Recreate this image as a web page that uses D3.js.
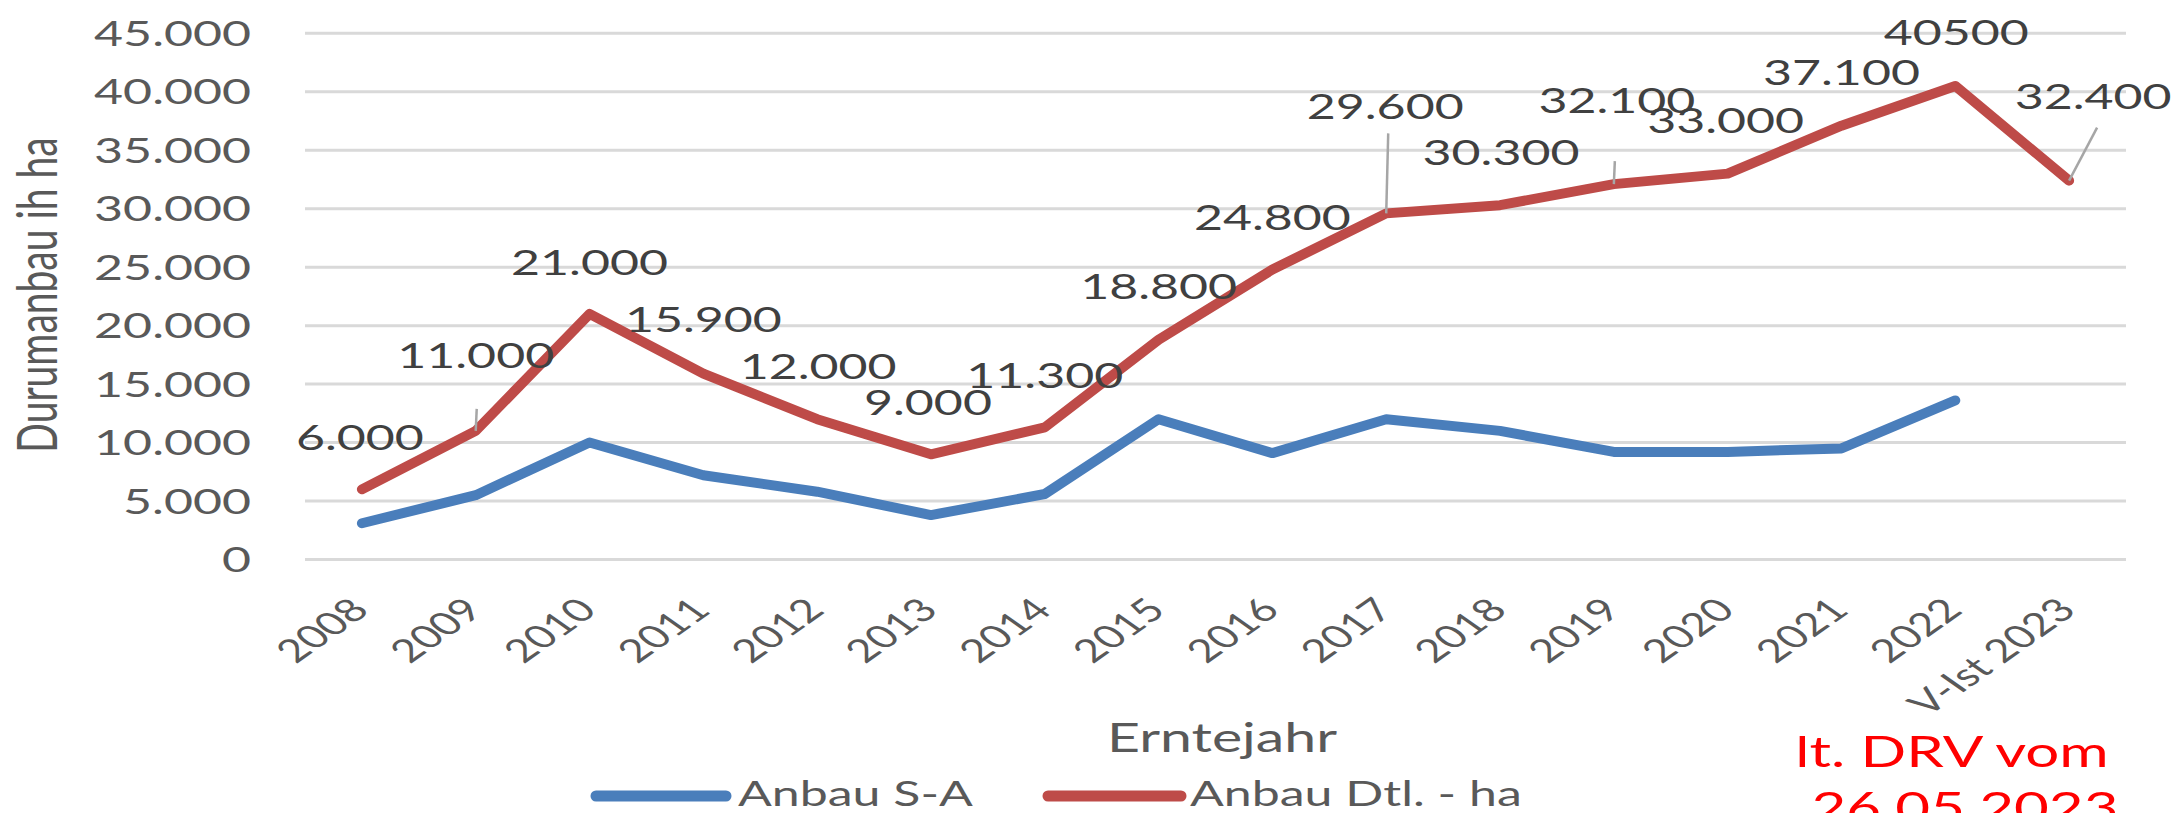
<!DOCTYPE html>
<html>
<head>
<meta charset="utf-8">
<script src="https://cdn.jsdelivr.net/npm/d3@7"></script>
<style>
  html, body { margin: 0; padding: 0; background: #ffffff; }
  svg { display: block; }
  text { font-family: Lato, "Open Sans", sans-serif; }
</style>
</head>
<body>
<svg id="chart" width="2182" height="813"></svg>
<script>
// ---------- DATA ----------
const categories = ["2008","2009","2010","2011","2012","2013","2014","2015","2016","2017","2018","2019","2020","2021","2022","V-Ist 2023"];
const seriesNames = ["Anbau S-A", "Anbau Dtl. - ha"];
const anbauSA  = [3100, 5500, 10000, 7200, 5800, 3800, 5600, 12000, 9100, 12000, 11000, 9200, 9200, 9500, 13600, null];
const anbauDtl = [6000, 11000, 21000, 15900, 12000, 9000, 11300, 18800, 24800, 29600, 30300, 32100, 33000, 37100, 40500, 32400];
const dtlLabels = ["6.000","11.000","21.000","15.900","12.000","9.000","11.300","18.800","24.800","29.600","30.300","32.100","33.000","37.100","40500","32.400"];
const yTicks = [0, 5000, 10000, 15000, 20000, 25000, 30000, 35000, 40000, 45000];
const yTickLabels = ["0","5.000","10.000","15.000","20.000","25.000","30.000","35.000","40.000","45.000"];
const yTitle = "Durumanbau ih ha";
const xTitle = "Erntejahr";
const noteLines = ["lt. DRV vom", "26.05.2023"];

// ---------- LAYOUT (label placement, not data) ----------
const labelOffsets = [[-2,-52],[0,-75],[0,-51],[0,-54],[1,-53],[-3,-52],[0,-52],[0,-53],[0,-52],[-1,-107],[1,-53],[3,-84],[-2,-53],[0,-53],[1,-53],[24,-84]];
const leaders = [[1, 1, -22],[9, 2, -80],[11, 1, -23],[15, 28, -53]];

const S = 1.43;
const plotLeft = 305, plotRight = 2126, plotTop = 33.3, plotBottom = 559.5;

const svg = d3.select("#chart");

const x = d3.scaleBand().domain(categories).range([plotLeft, plotRight]).paddingInner(0).paddingOuter(0);
const cx = c => x(c) + x.bandwidth() / 2;
const y = d3.scaleLinear().domain([0, 45000]).range([plotBottom, plotTop]);

function stext(g, px, py, str, o) {
  o = o || {};
  const rot = o.rotate ? ` rotate(${o.rotate})` : "";
  return g.append("text")
    .attr("transform", `translate(${px},${py}) scale(${S},1)${rot}`)
    .attr("text-anchor", o.anchor || "middle")
    .attr("font-size", o.size || 35)
    .attr("fill", o.fill || "#595959")
    .text(str);
}

const grid = svg.append("g");
grid.selectAll("line").data(yTicks).join("line")
  .attr("x1", plotLeft).attr("x2", plotRight)
  .attr("y1", d => y(d)).attr("y2", d => y(d))
  .attr("stroke", "#D9D9D9").attr("stroke-width", 3);

const yl = svg.append("g");
yTicks.forEach((t, i) => stext(yl, 251, y(t) + 12.5, yTickLabels[i], {anchor: "end", size: 35}));

const xl = svg.append("g");
categories.forEach(c => stext(xl, cx(c) + 9, 612, c, {anchor: "end", size: 32, rotate: -45}));

stext(svg, 57, 295, yTitle, {rotate: -90, size: 39});
stext(svg, 1222, 752, xTitle, {size: 40});

const line = d3.line()
  .defined(d => d.v != null)
  .x(d => cx(d.c)).y(d => y(d.v));

const blueData = categories.map((c, i) => ({c, v: anbauSA[i]}));
const redData = categories.map((c, i) => ({c, v: anbauDtl[i]}));

svg.append("path").datum(blueData).attr("d", line)
  .attr("fill", "none").attr("stroke", "#4A7EBB").attr("stroke-width", 10)
  .attr("stroke-linecap", "round").attr("stroke-linejoin", "round");
svg.append("path").datum(redData).attr("d", line)
  .attr("fill", "none").attr("stroke", "#BE4B48").attr("stroke-width", 10)
  .attr("stroke-linecap", "round").attr("stroke-linejoin", "round");

const ll = svg.append("g");
leaders.forEach(([i, dx, dy]) => {
  const px = cx(categories[i]), py = y(anbauDtl[i]);
  ll.append("line").attr("x1", px).attr("y1", py).attr("x2", px + dx).attr("y2", py + dy)
    .attr("stroke", "#A6A6A6").attr("stroke-width", 2.5);
});

const dl = svg.append("g");
dtlLabels.forEach((lab, i) => {
  const px = cx(categories[i]) + labelOffsets[i][0];
  const py = y(anbauDtl[i]) + labelOffsets[i][1] + 12.5;
  stext(dl, px, py, lab, {size: 35, fill: "#404040"});
});

const lg = svg.append("g");
const legendItems = [
  {name: seriesNames[0], color: "#4A7EBB", x1: 596, x2: 726, tx: 738},
  {name: seriesNames[1], color: "#BE4B48", x1: 1048, x2: 1181, tx: 1190}
];
legendItems.forEach(it => {
  lg.append("line").attr("x1", it.x1).attr("x2", it.x2).attr("y1", 796).attr("y2", 796)
    .attr("stroke", it.color).attr("stroke-width", 11).attr("stroke-linecap", "round");
  stext(lg, it.tx, 806, it.name, {anchor: "start", size: 35});
});

stext(svg, 1952, 767, noteLines[0], {size: 42, fill: "#FF0000"});
stext(svg, 1965, 823, noteLines[1], {size: 42, fill: "#FF0000"});
</script>
</body>
</html>
